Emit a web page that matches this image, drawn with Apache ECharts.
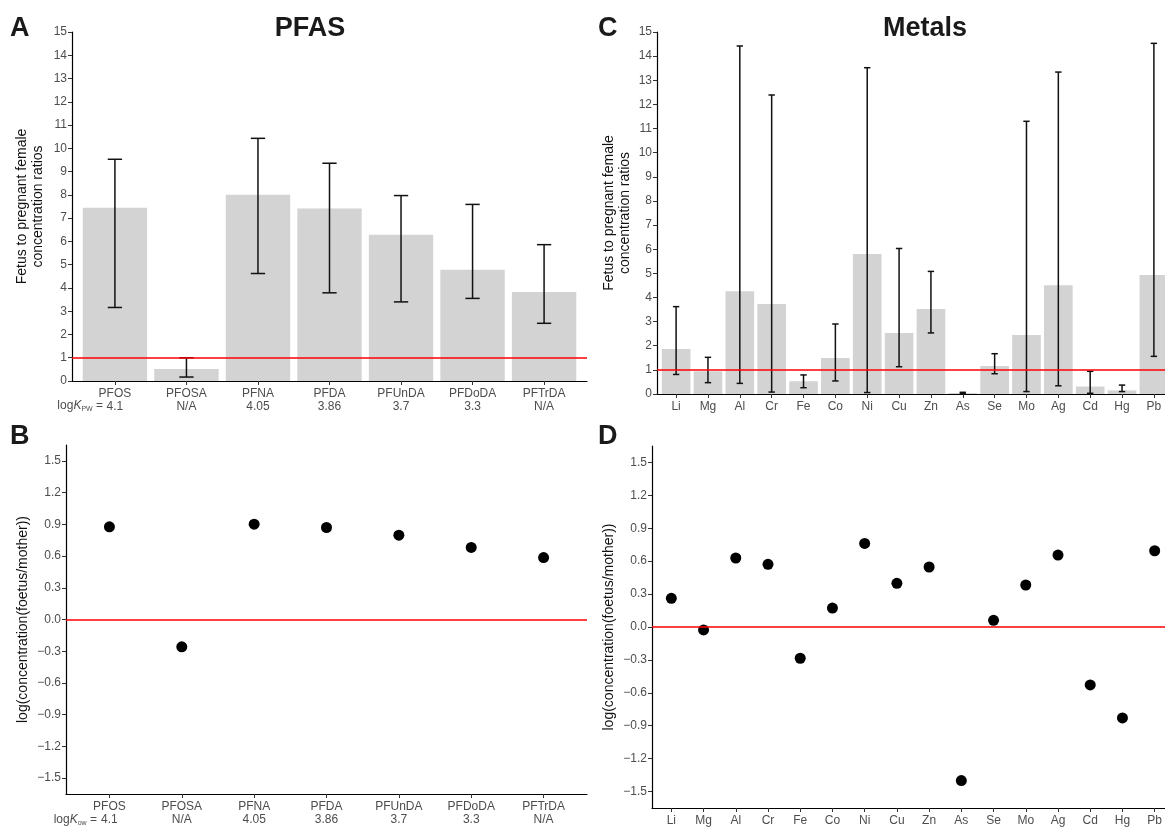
<!DOCTYPE html>
<html>
<head>
<meta charset="utf-8">
<script src="https://cdn.jsdelivr.net/npm/echarts@6/dist/echarts.min.js"></script>
<style>
  html, body { margin: 0; padding: 0; background: #fff; }
  #chart { width: 1165px; height: 830px; }
</style>
</head>
<body>
<div id="chart"></div>
<script>
// PFAS (panels A and B)
var pfasNames = ['PFOS', 'PFOSA', 'PFNA', 'PFDA', 'PFUnDA', 'PFDoDA', 'PFTrDA']
var pfasKow = ['4.1', 'N/A', '4.05', '3.86', '3.7', '3.3', 'N/A']
var pfasRatio = [7.45, 0.52, 8.01, 7.41, 6.29, 4.78, 3.83]
var pfasLow = [3.16, 0.17, 4.62, 3.79, 3.40, 3.55, 2.48]
var pfasHigh = [9.53, 1.0, 10.43, 9.36, 7.97, 7.59, 5.86]
var pfasLog = [0.876, -0.258, 0.901, 0.870, 0.797, 0.681, 0.586]

// Metals (panels C and D)
var metalNames = ['Li', 'Mg', 'Al', 'Cr', 'Fe', 'Co', 'Ni', 'Cu', 'Zn', 'As', 'Se', 'Mo', 'Ag', 'Cd', 'Hg', 'Pb']
var metalRatio = [1.86, 0.94, 4.26, 3.73, 0.53, 1.49, 5.80, 2.53, 3.52, 0.04, 1.16, 2.44, 4.51, 0.31, 0.15, 4.93]
var metalLow = [0.81, 0.47, 0.44, 0.08, 0.26, 0.54, 0.06, 1.13, 2.53, 0.01, 0.84, 0.10, 0.34, 0.03, 0.10, 1.56]
var metalHigh = [3.62, 1.52, 14.42, 12.39, 0.79, 2.90, 13.52, 6.03, 5.08, 0.07, 1.67, 11.30, 13.34, 0.94, 0.37, 14.53]
var metalLog = [0.261, -0.027, 0.629, 0.571, -0.285, 0.173, 0.762, 0.398, 0.547, -1.40, 0.061, 0.383, 0.656, -0.528, -0.829, 0.695]

var logTicks = [-1.5, -1.2, -0.9, -0.6, -0.3, 0, 0.3, 0.6, 0.9, 1.2, 1.5]

var FONT = 'Liberation Sans, Arial, sans-serif'
var TICKCOL = '#4d4d4d'

function idx(n) {
  var a = []
  for (var i = 0; i < n; i++) a.push(i)
  return a
}

function barItem(params, api) {
  var x = api.value(0)
  var a = api.coord([x - 0.45, api.value(1)])
  var b = api.coord([x + 0.45, 0])
  return {
    type: 'rect',
    shape: { x: a[0], y: a[1], width: b[0] - a[0], height: b[1] - a[1] },
    style: { fill: '#d3d3d3' }
  }
}

function errItem(params, api) {
  var x = api.value(0)
  var lo = api.coord([x, api.value(1)])
  var hi = api.coord([x, api.value(2)])
  var l = api.coord([x - 0.1, 0])[0]
  var r = api.coord([x + 0.1, 0])[0]
  var st = { stroke: '#111', lineWidth: 1.5 }
  return {
    type: 'group',
    children: [
      { type: 'line', shape: { x1: lo[0], y1: lo[1], x2: hi[0], y2: hi[1] }, style: st },
      { type: 'line', shape: { x1: l, y1: lo[1], x2: r, y2: lo[1] }, style: st },
      { type: 'line', shape: { x1: l, y1: hi[1], x2: r, y2: hi[1] }, style: st }
    ]
  }
}

function redLine(v) {
  return {
    silent: true,
    symbol: 'none',
    label: { show: false },
    animation: false,
    lineStyle: { color: '#ff0000', type: 'solid', width: 1.5 },
    data: [{ yAxis: v }]
  }
}

function xAxisFor(names, gridIndex, kow) {
  var ticks = idx(names.length)
  return {
    type: 'value',
    gridIndex: gridIndex,
    min: -0.6,
    max: names.length - 0.4,
    splitLine: { show: false },
    axisLine: { show: true, onZero: false, lineStyle: { color: '#000', width: 1.2 } },
    axisTick: { show: true, length: 4, customValues: ticks, lineStyle: { color: '#333', width: 1 } },
    axisLabel: {
      customValues: ticks,
      showMinLabel: true,
      showMaxLabel: true,
      hideOverlap: false,
      margin: 6,
      fontSize: 12,
      color: TICKCOL,
      fontFamily: FONT,
      lineHeight: 13,
      formatter: function (v) {
        var i = Math.round(v)
        return kow ? names[i] + '\n' + kow[i] : names[i]
      }
    }
  }
}

function ratioAxis(gridIndex, gap) {
  return {
    type: 'value',
    gridIndex: gridIndex,
    min: 0,
    max: 15,
    interval: 1,
    name: 'Fetus to pregnant female\nconcentration ratios',
    nameLocation: 'middle',
    nameRotate: 90,
    nameGap: gap,
    nameTextStyle: { fontSize: 14, color: '#111', fontFamily: FONT, lineHeight: 16 },
    splitLine: { show: false },
    axisLine: { show: true, onZero: false, lineStyle: { color: '#000', width: 1.2 } },
    axisTick: { show: true, length: 4, lineStyle: { color: '#333', width: 1 } },
    axisLabel: { fontSize: 12, color: TICKCOL, fontFamily: FONT, margin: 5 }
  }
}

function logAxis(gridIndex, gap) {
  return {
    type: 'value',
    gridIndex: gridIndex,
    min: -1.65,
    max: 1.65,
    name: 'log(concentration(foetus/mother))',
    nameLocation: 'middle',
    nameRotate: 90,
    nameGap: gap,
    nameTextStyle: { fontSize: 14, color: '#111', fontFamily: FONT },
    splitLine: { show: false },
    axisLine: { show: true, onZero: false, lineStyle: { color: '#000', width: 1.2 } },
    axisTick: { show: true, length: 4, customValues: logTicks, lineStyle: { color: '#333', width: 1 } },
    axisLabel: {
      customValues: logTicks,
      fontSize: 12,
      color: TICKCOL,
      fontFamily: FONT,
      margin: 5,
      formatter: function (v) { return v.toFixed(1).replace('-', '\u2212') }
    }
  }
}

function panelText(text, x, y, size, align) {
  return {
    type: 'text',
    x: x,
    y: y,
    style: {
      text: text,
      font: 'bold ' + size + 'px ' + FONT,
      fill: '#1a1a1a',
      textAlign: align,
      textVerticalAlign: 'middle'
    }
  }
}

// "logK = " prefix in front of the first partition coefficient
function kPrefix(x, y, sub) {
  return {
    type: 'text',
    x: x,
    y: y,
    style: {
      text: '{t|log}{k|K}{s|' + sub + '}{t| =}',
      textAlign: 'right',
      textVerticalAlign: 'middle',
      rich: {
        t: { fontSize: 12, fill: TICKCOL, fontFamily: FONT, lineHeight: 13 },
        k: { fontSize: 12, fill: TICKCOL, fontFamily: FONT, fontStyle: 'italic', lineHeight: 13 },
        s: { fontSize: 7, fill: TICKCOL, fontFamily: FONT, lineHeight: 13, verticalAlign: 'bottom' }
      }
    }
  }
}

var chart = echarts.init(document.getElementById('chart'))

var option = {
  backgroundColor: '#fff',
  animation: false,
  textStyle: { fontFamily: FONT },
  graphic: [
    panelText('A', 10, 29, 27, 'left'),
    panelText('B', 10, 437, 27, 'left'),
    panelText('C', 598, 29, 27, 'left'),
    panelText('D', 598, 437, 27, 'left'),
    panelText('PFAS', 310, 29, 27, 'center'),
    panelText('Metals', 925, 29, 27, 'center'),
    kPrefix(103, 406, 'PW'),
    kPrefix(97, 820, 'ow')
  ],
  grid: [
    { left: 72, top: 32, width: 515, height: 349, outerBoundsMode: 'none' },
    { left: 657, top: 32, width: 516, height: 362, outerBoundsMode: 'none' },
    { left: 66, top: 445, width: 521, height: 349, outerBoundsMode: 'none' },
    { left: 652, top: 446, width: 522, height: 362, outerBoundsMode: 'none' }
  ],
  xAxis: [
    xAxisFor(pfasNames, 0, pfasKow),
    xAxisFor(metalNames, 1, null),
    xAxisFor(pfasNames, 2, pfasKow),
    xAxisFor(metalNames, 3, null)
  ],
  yAxis: [
    ratioAxis(0, 26),
    ratioAxis(1, 24),
    logAxis(2, 36),
    logAxis(3, 36)
  ],
  series: [
    {
      type: 'custom',
      xAxisIndex: 0,
      yAxisIndex: 0,
      z: 2,
      renderItem: barItem,
      encode: { x: 0, y: 1 },
      data: pfasRatio.map(function (v, i) { return [i, v] }),
      markLine: redLine(1)
    },
    {
      type: 'custom',
      xAxisIndex: 0,
      yAxisIndex: 0,
      z: 4,
      renderItem: errItem,
      encode: { x: 0, y: [1, 2] },
      data: pfasLow.map(function (v, i) { return [i, v, pfasHigh[i]] })
    },
    {
      type: 'custom',
      xAxisIndex: 1,
      yAxisIndex: 1,
      z: 2,
      renderItem: barItem,
      encode: { x: 0, y: 1 },
      data: metalRatio.map(function (v, i) { return [i, v] }),
      markLine: redLine(1)
    },
    {
      type: 'custom',
      xAxisIndex: 1,
      yAxisIndex: 1,
      z: 4,
      renderItem: errItem,
      encode: { x: 0, y: [1, 2] },
      data: metalLow.map(function (v, i) { return [i, v, metalHigh[i]] })
    },
    {
      type: 'scatter',
      xAxisIndex: 2,
      yAxisIndex: 2,
      symbolSize: 11,
      itemStyle: { color: '#000', opacity: 1 },
      data: pfasLog.map(function (v, i) { return [i, v] }),
      markLine: redLine(0)
    },
    {
      type: 'scatter',
      xAxisIndex: 3,
      yAxisIndex: 3,
      symbolSize: 11,
      itemStyle: { color: '#000', opacity: 1 },
      data: metalLog.map(function (v, i) { return [i, v] }),
      markLine: redLine(0)
    }
  ]
}

chart.setOption(option)
</script>
</body>
</html>
